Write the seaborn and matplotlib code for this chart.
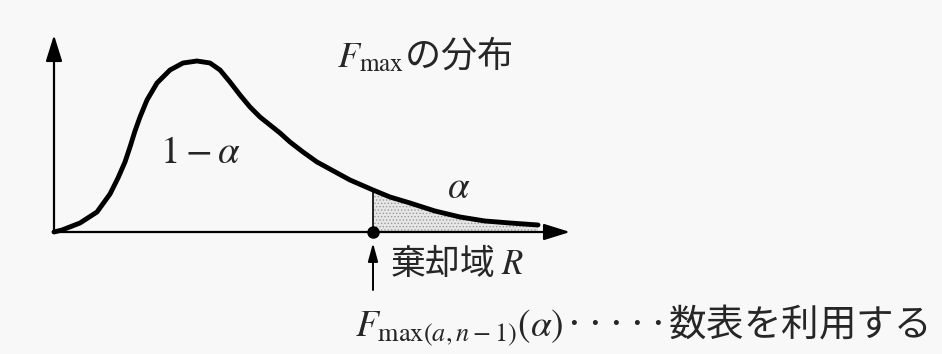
import matplotlib
matplotlib.use('Agg')
import matplotlib.pyplot as plt
import seaborn as sns
import pandas as pd

# curve of the F_max density (arbitrary units)
r_vals = [0, .08, .26, .43, .56, .64, .71, .76, .81, .86, .93, 1.03, 1.16, 1.29,
          1.43, 1.56, 1.66, 1.76, 1.86, 1.96, 2.06, 2.16, 2.26, 2.36, 2.49, 2.63,
          2.96, 3.19, 3.36, 3.56, 3.81, 4.06, 4.31, 4.56, 4.84]
f_vals = [0, .02, .09, .20, .38, .54, .70, .85, 1.01, 1.15, 1.32, 1.49, 1.62, 1.69,
          1.71, 1.69, 1.62, 1.50, 1.37, 1.25, 1.15, 1.07, .99, .90, .80, .70,
          .52, .42, .35, .29, .21, .15, .11, .09, .07]
r_crit = 3.19
f_crit = 0.42
y_top = 1.97
x_end = 5.16

title_txt = r'$F_{\mathrm{max}}$の分布'
inner_txt = r'$1-\alpha$'
tail_txt = r'$\alpha$'
region_txt = r'棄却域 $R$'
crit_txt = r'$F_{\mathrm{max}(a,n-1)}(\alpha)$·····数表を利用する'

df = pd.DataFrame({'R': r_vals, 'f': f_vals})
tail = df[df['R'] >= r_crit]

sns.set_style('white')
plt.rcParams['font.family'] = ['Noto Sans CJK JP', 'DejaVu Sans']
plt.rcParams['mathtext.fontset'] = 'stix'
plt.rcParams['hatch.linewidth'] = 0.6

fig = plt.figure(figsize=(9.42, 3.54), dpi=100, facecolor='#f8f8f8')
ax = fig.add_axes([0, 0, 1, 1])
ax.set_facecolor('#f8f8f8')
ax.set_xlim(-0.54, 8.88)
ax.set_ylim(-1.22, 2.32)
ax.axis('off')

# shaded rejection area
ax.fill_between(tail['R'], 0, tail['f'], facecolor='#e6e6e6', hatch='.....',
                edgecolor='#9a9a9a', linewidth=0)

sns.lineplot(data=df, x='R', y='f', ax=ax, color='black', linewidth=3.5,
             solid_capstyle='round', solid_joinstyle='round')

# axes with arrows
arrow = dict(arrowstyle='-|>,head_length=0.8,head_width=0.25', color='black',
             lw=1.6, mutation_scale=20, shrinkA=0, shrinkB=0)
ax.annotate('', xy=(0, y_top), xytext=(0, 0), arrowprops=arrow)
ax.annotate('', xy=(x_end, 0), xytext=(0, 0), arrowprops=arrow)

ax.plot([r_crit, r_crit], [0, f_crit], color='black', lw=1.2)
ax.plot([r_crit], [0], 'o', color='black', markersize=8)
ax.annotate('', xy=(r_crit, -0.11), xytext=(r_crit, -0.58),
            arrowprops=dict(arrowstyle='-|>,head_length=1.1,head_width=0.3',
                            color='black', lw=1.4, mutation_scale=10,
                            shrinkA=0, shrinkB=0))

ax.text(2.83, 1.65, title_txt, fontsize=26, ha='left', va='baseline')
ax.text(1.06, 0.69, inner_txt, fontsize=28, ha='left', va='baseline')
ax.text(3.93, 0.34, tail_txt, fontsize=28, ha='left', va='baseline')
ax.text(3.36, -0.42, region_txt, fontsize=25, ha='left', va='baseline')
ax.text(3.01, -1.04, crit_txt, fontsize=27, ha='left', va='baseline')

plt.savefig('out.png', dpi=100, facecolor=fig.get_facecolor())
